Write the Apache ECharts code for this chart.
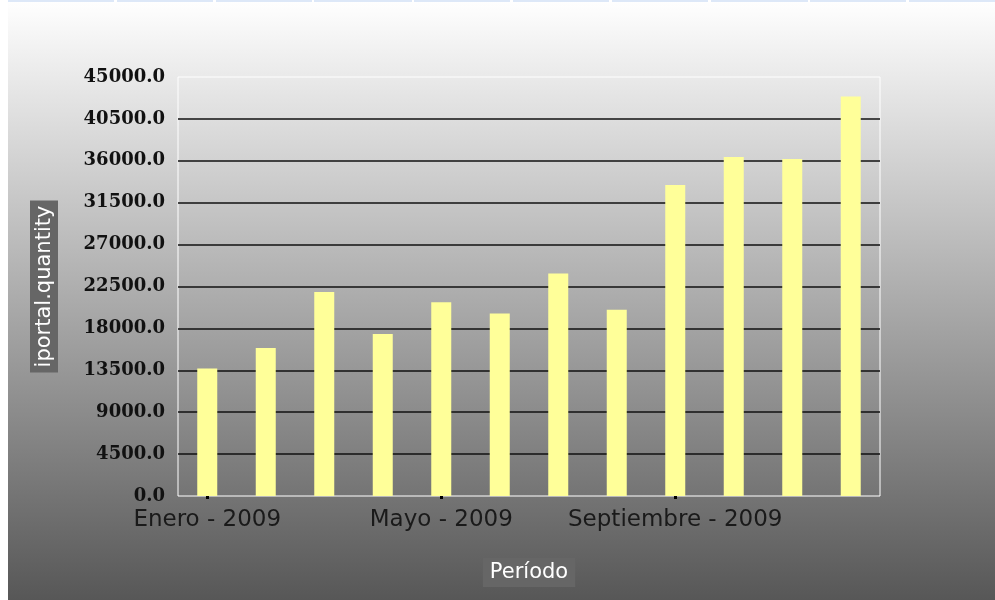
<!DOCTYPE html>
<html>
<head>
<meta charset="utf-8">
<title>iportal.quantity</title>
<script src="https://cdn.jsdelivr.net/npm/echarts@6/dist/echarts.min.js"></script>
<style>
  html, body { margin: 0; padding: 0; background: #fff; }
  #chart { width: 995px; height: 600px; }
</style>
</head>
<body>
<div id="chart"></div>
<script>
// datos del periodo
var meses = ['Enero', 'Febrero', 'Marzo', 'Abril', 'Mayo', 'Junio', 'Julio', 'Agosto', 'Septiembre', 'Octubre', 'Noviembre', 'Diciembre']
var anio = '2009'
var categorias = meses.map(function (m) { return m + ' - ' + anio })
var cantidades = [13700, 15900, 21900, 17400, 20800, 19600, 23900, 20000, 33400, 36400, 36200, 42900]
var ejeMin = 0
var ejeMax = 45000
var ejeIntervalo = 4500

var chart = echarts.init(document.getElementById('chart'), null, { renderer: 'canvas' })

// tiras azules de arriba (decoracion de la pagina)
var tiras = [[6, 108], [117, 96], [216, 96], [314, 98], [414, 96], [513, 96], [612, 96], [711, 97], [810, 96], [909, 86]]
var graficos = tiras.map(function (t) {
  return { type: 'rect', shape: { x: t[0], y: 0, width: t[1], height: 2 }, style: { fill: '#dde8f8' }, silent: true }
})
graficos.push({ type: 'rect', shape: { x: 0, y: 0, width: 8, height: 600 }, style: { fill: '#ffffff' }, silent: true })
graficos.push({ type: 'rect', shape: { x: 8, y: 0, width: 987, height: 2 }, style: { fill: '#ffffff' }, silent: true, z: -1 })

chart.setOption({
  backgroundColor: {
    type: 'linear', x: 0, y: 0, x2: 0, y2: 1,
    colorStops: [{ offset: 0, color: '#ffffff' }, { offset: 1, color: '#575757' }]
  },
  animation: false,
  graphic: graficos,
  grid: {
    left: 178,
    right: 115,
    top: 77,
    bottom: 104,
    show: true,
    borderColor: '#ffffff',
    borderWidth: 1,
    backgroundColor: 'transparent'
  },
  xAxis: {
    type: 'category',
    data: categorias,
    name: 'Período',
    nameLocation: 'middle',
    nameGap: 62,
    nameTextStyle: {
      color: '#ffffff',
      fontFamily: 'DejaVu Sans',
      fontSize: 21,
      backgroundColor: '#666666',
      padding: [4, 7, 4, 7]
    },
    axisLine: { show: false },
    axisTick: {
      show: true,
      alignWithLabel: true,
      interval: 3,
      length: 3,
      lineStyle: { color: '#000000', width: 3 }
    },
    axisLabel: {
      interval: 3,
      color: '#1a1a1a',
      fontFamily: 'DejaVu Sans',
      fontSize: 23,
      margin: 13
    },
    splitLine: { show: false }
  },
  yAxis: {
    type: 'value',
    min: ejeMin,
    max: ejeMax,
    interval: ejeIntervalo,
    name: 'iportal.quantity',
    nameLocation: 'middle',
    nameRotate: 90,
    nameGap: 120,
    nameTextStyle: {
      color: '#ffffff',
      fontFamily: 'DejaVu Sans',
      fontSize: 21,
      backgroundColor: '#666666',
      padding: [4, 5, 3, 5]
    },
    axisLine: { show: false },
    axisTick: { show: false },
    axisLabel: {
      color: '#111111',
      fontFamily: 'DejaVu Serif',
      fontWeight: 'bold',
      fontSize: 18,
      margin: 13,
      formatter: function (v) { return v.toFixed(1) }
    },
    splitLine: {
      show: true,
      showMinLine: false,
      showMaxLine: false,
      lineStyle: { color: '#111111', width: 1.5 }
    }
  },
  series: [{
    name: 'iportal.quantity',
    type: 'bar',
    data: cantidades,
    barWidth: 20,
    itemStyle: { color: '#ffff99' }
  }]
})
</script>
</body>
</html>
